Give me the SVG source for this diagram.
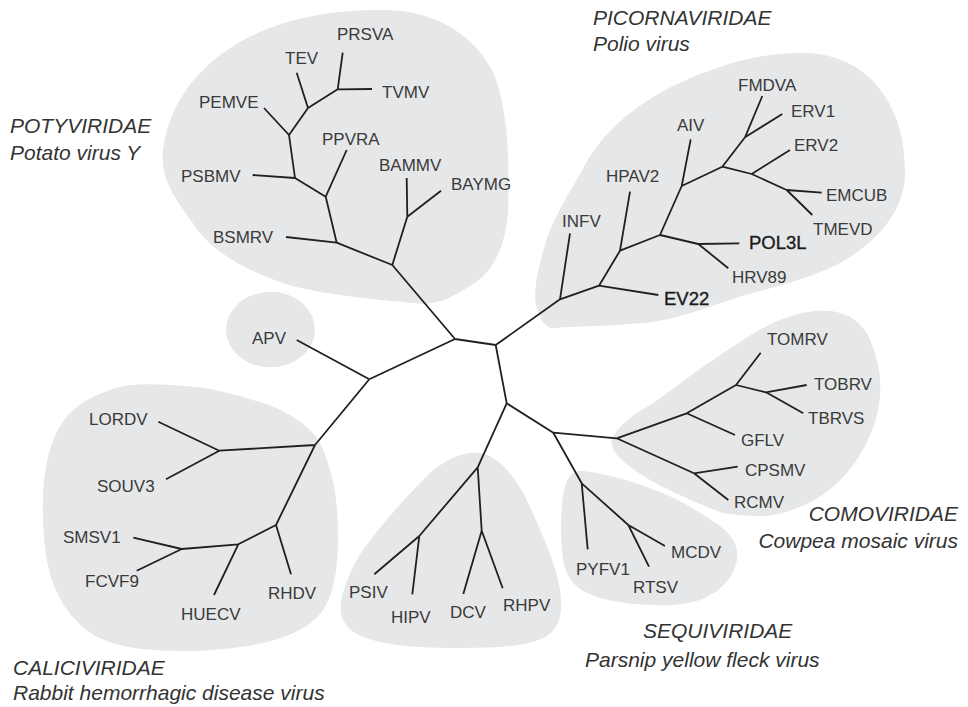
<svg xmlns="http://www.w3.org/2000/svg" width="968" height="707" viewBox="0 0 968 707">
<style>
.blob{fill:#e6e7e8;stroke:none}
.br{fill:none;stroke:#231f20;stroke-width:1.8;stroke-linejoin:round}
.lb{font-family:"Liberation Sans",Arial,sans-serif;font-size:17px;fill:#3a3a3a}
.bd{font-family:"Liberation Sans",Arial,sans-serif;font-size:18.5px;fill:#1a1a1a;stroke:#1a1a1a;stroke-width:0.35}
.fam{font-family:"Liberation Sans",Arial,sans-serif;font-size:21px;font-style:italic;fill:#333}
</style>
<rect width="968" height="707" fill="#ffffff"/>
<g id="clades">
<path id="blob-poty" class="blob" d="M425,304 C380,300 320,295 283,283 C240,268 210,250 192,222 C172,195 160,175 163,150 C168,110 190,75 230,48 C270,22 320,10 383,10 C430,10 470,30 492,70 C508,105 510,160 508,210 C506,250 490,275 470,286 C455,296 440,303 425,304 Z"/>
<ellipse id="blob-apv" class="blob" cx="270.5" cy="329.5" rx="44.5" ry="37.8"/>
<path id="blob-picorna" class="blob" d="M553,328 C580,326 620,326 653,322 C690,316 720,302 753,293 C800,280 835,270 860,250 C890,228 905,200 905,173 C905,130 892,100 870,78 C848,58 822,52 797,53 C765,54 740,60 720,67 C690,77 672,86 653,97 C620,118 600,138 585,165 C565,200 550,225 545,245 C538,270 533,290 536,305 C540,320 545,328 553,328 Z"/>
<path id="blob-como" class="blob" d="M612,438 C620,425 632,415 647,407 C670,392 690,375 713,360 C738,343 760,328 780,320 C800,312 815,310 830,311 C850,313 866,325 872,345 C880,365 882,385 879,405 C875,430 862,455 847,473 C830,492 812,503 797,508 C785,513 772,516 760,516 C745,516 735,515 723,513 C700,505 680,495 663,487 C645,478 630,468 620,458 C614,452 610,445 612,438 Z"/>
<path id="blob-sequi" class="blob" d="M580,471 C600,472 630,480 660,492 C680,500 700,512 720,526 C735,537 740,550 736,564 C732,578 722,590 705,598 C688,605 668,606 650,605 C625,604 600,600 585,592 C570,584 563,570 562,550 C560,530 561,510 563,495 C566,480 570,471 580,471 Z"/>
<path id="blob-calici" class="blob" d="M130,385 C110,388 85,398 70,413 C52,432 45,460 43,495 C42,530 45,560 52,580 C62,608 78,626 97,637 C120,648 150,651 180,651 C210,651 240,648 263,643 C290,637 312,626 323,610 C335,592 338,565 338,537 C338,510 336,490 330,470 C325,452 320,441 313,433 C300,420 285,410 263,403 C240,396 220,390 197,387 C175,385 150,383 130,385 Z"/>
<path id="blob-dicistro" class="blob" d="M480,453 C500,456 518,480 530,507 C545,540 556,565 560,590 C563,612 560,628 547,636 C530,646 500,648 463,648 C420,648 380,646 357,634 C342,626 338,612 342,597 C346,582 352,566 363,550 C380,526 405,498 430,473 C445,460 462,451 480,453 Z"/>
</g>
<g id="connectors">
<path class="br" d="M392.3,265 L455,339 L495.7,345 M455,339 L369.3,379.3"/>
<path class="br" d="M392.3,265 L336.7,242.7 M392.3,265 L407.3,216.7 L406.7,178 M407.3,216.7 L441,190.7 M336.7,242.7 L286,237 M336.7,242.7 L325.7,196.7 L346.7,150 M325.7,196.7 L295,178 L252.7,175 M295,178 L289,135 L264,108 M289,135 L308,108 L296.7,72.7 M308,108 L337.7,89.3 L342.7,52.7 M337.7,89.3 L372,89"/>
<path class="br" d="M369.3,379.3 L296.7,340 M369.3,379.3 L315,445 L219.3,450.7 L158.3,421.7 M219.3,450.7 L166,479.3 M315,445 L276,525 L291,574.3 M276,525 L238.3,544.3 L214,595 M238.3,544.3 L181.7,549 L133.3,537.7 M181.7,549 L136.7,570.7"/>
<path class="br" d="M495.7,345 L560,299.3 L570,233.3 M560,299.3 L599,285.7 L658.3,295 M599,285.7 L620,250.7 L630,191.7 M620,250.7 L660,235 L698.3,244 L739.3,243.3 M698.3,244 L728.3,268.3 M660,235 L681.7,186 L690.7,139.3 M681.7,186 L722.3,166.7 L745,137.3 L762.3,96 M745,137.3 L782.3,114 M722.3,166.7 L751.7,174 L790,150 M751.7,174 L786.7,190 L821.7,192.7 M786.7,190 L812.3,215"/>
<path class="br" d="M495.7,345 L506.7,403.3 L553.3,432.7 L616.7,438.3 L686.7,413.3 L735,435 M686.7,413.3 L736,385 L760.7,352.7 M736,385 L766,392.3 L806.7,385 M766,392.3 L803.3,413.3 M616.7,438.3 L694,473.3 L737.7,466.7 M694,473.3 L728.3,500"/>
<path class="br" d="M553.3,432.7 L581.7,483.3 L587.7,549.3 M581.7,483.3 L628.3,525 L665,546 M628.3,525 L649,566.7"/>
<path class="br" d="M506.7,403.3 L477.7,467.3 L481.7,530.7 L463.3,594 M481.7,530.7 L502.7,588.3 M477.7,467.3 L419.3,536 L374.3,574.3 M419.3,536 L412.3,594.3"/>
</g>
<g id="families">
<text class="fam" x="10" y="133">POTYVIRIDAE</text>
<text class="fam" x="10" y="160">Potato virus Y</text>
<text class="fam" x="593" y="25">PICORNAVIRIDAE</text>
<text class="fam" x="593" y="51">Polio virus</text>
<text class="fam" x="958" y="521" text-anchor="end">COMOVIRIDAE</text>
<text class="fam" x="958" y="548" text-anchor="end">Cowpea mosaic virus</text>
<text class="fam" x="643" y="638">SEQUIVIRIDAE</text>
<text class="fam" x="585" y="667">Parsnip yellow fleck virus</text>
<text class="fam" x="13" y="675">CALICIVIRIDAE</text>
<text class="fam" x="13" y="700">Rabbit hemorrhagic disease virus</text>
</g>
<g id="n-PRSVA"><text class="lb" x="337" y="40">PRSVA</text></g>
<g id="n-TEV"><text class="lb" x="285" y="64">TEV</text></g>
<g id="n-TVMV"><text class="lb" x="382" y="98">TVMV</text></g>
<g id="n-PEMVE"><text class="lb" x="199" y="108">PEMVE</text></g>
<g id="n-PPVRA"><text class="lb" x="322" y="145">PPVRA</text></g>
<g id="n-PSBMV"><text class="lb" x="181" y="182">PSBMV</text></g>
<g id="n-BAMMV"><text class="lb" x="379" y="171">BAMMV</text></g>
<g id="n-BAYMG"><text class="lb" x="451" y="190">BAYMG</text></g>
<g id="n-BSMRV"><text class="lb" x="213" y="243">BSMRV</text></g>
<g id="n-APV"><text class="lb" x="252" y="344">APV</text></g>
<g id="n-INFV"><text class="lb" x="562" y="227">INFV</text></g>
<g id="n-HPAV2"><text class="lb" x="606" y="182">HPAV2</text></g>
<g id="n-AIV"><text class="lb" x="677" y="131">AIV</text></g>
<g id="n-FMDVA"><text class="lb" x="738" y="91">FMDVA</text></g>
<g id="n-ERV1"><text class="lb" x="791" y="117">ERV1</text></g>
<g id="n-ERV2"><text class="lb" x="794" y="151">ERV2</text></g>
<g id="n-EMCUB"><text class="lb" x="826" y="201">EMCUB</text></g>
<g id="n-TMEVD"><text class="lb" x="813" y="235">TMEVD</text></g>
<g id="n-POL3L"><text class="bd" x="749" y="249">POL3L</text></g>
<g id="n-HRV89"><text class="lb" x="732" y="283">HRV89</text></g>
<g id="n-EV22"><text class="bd" x="664" y="305">EV22</text></g>
<g id="n-TOMRV"><text class="lb" x="767" y="345">TOMRV</text></g>
<g id="n-TOBRV"><text class="lb" x="814" y="390">TOBRV</text></g>
<g id="n-TBRVS"><text class="lb" x="808" y="424">TBRVS</text></g>
<g id="n-GFLV"><text class="lb" x="741" y="446">GFLV</text></g>
<g id="n-CPSMV"><text class="lb" x="745" y="476">CPSMV</text></g>
<g id="n-RCMV"><text class="lb" x="734" y="508">RCMV</text></g>
<g id="n-MCDV"><text class="lb" x="671" y="558">MCDV</text></g>
<g id="n-PYFV1"><text class="lb" x="576" y="575">PYFV1</text></g>
<g id="n-RTSV"><text class="lb" x="633" y="593">RTSV</text></g>
<g id="n-PSIV"><text class="lb" x="349" y="598">PSIV</text></g>
<g id="n-HIPV"><text class="lb" x="391" y="623">HIPV</text></g>
<g id="n-DCV"><text class="lb" x="450" y="618">DCV</text></g>
<g id="n-RHPV"><text class="lb" x="503" y="611">RHPV</text></g>
<g id="n-LORDV"><text class="lb" x="89" y="425">LORDV</text></g>
<g id="n-SOUV3"><text class="lb" x="97" y="492">SOUV3</text></g>
<g id="n-SMSV1"><text class="lb" x="63" y="543">SMSV1</text></g>
<g id="n-FCVF9"><text class="lb" x="85" y="587">FCVF9</text></g>
<g id="n-HUECV"><text class="lb" x="181" y="620">HUECV</text></g>
<g id="n-RHDV"><text class="lb" x="268" y="599">RHDV</text></g>
</svg>
